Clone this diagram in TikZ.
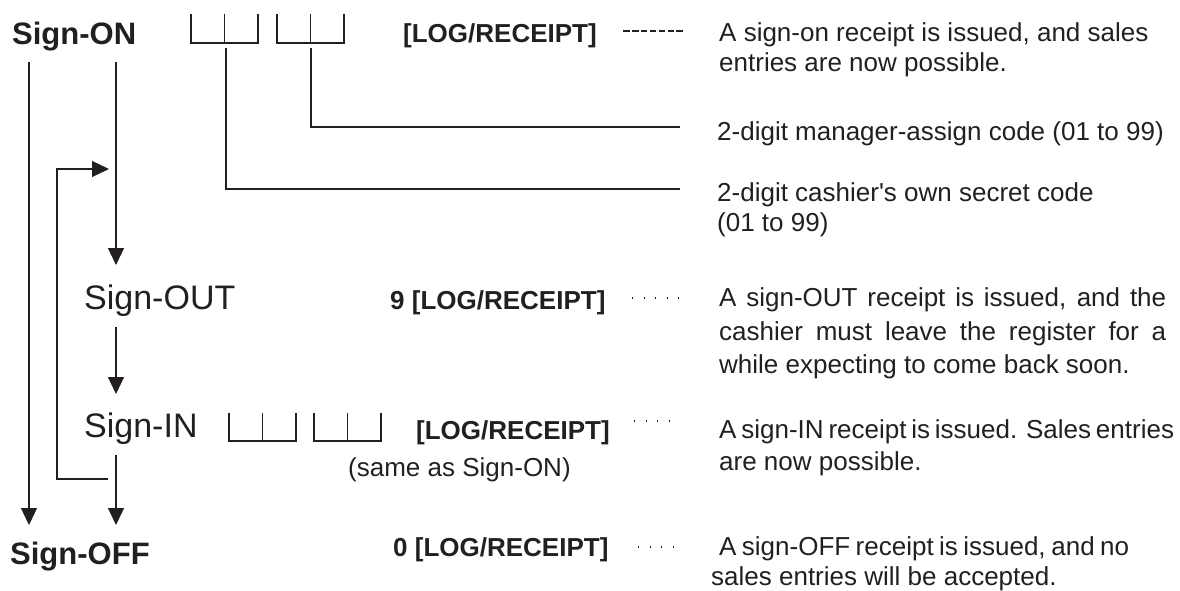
\documentclass[tikz,border=0pt]{standalone}
\usepackage{fontspec}
\setmainfont{Liberation Sans}[Ligatures=TeXOff]
\usetikzlibrary{arrows.meta}
\definecolor{ink}{HTML}{231F20}
\begin{document}
\begin{tikzpicture}[x=1pt,y=-1pt,
  ln/.style={draw=ink,line width=1.2pt},
  arr/.style={ln,-{Triangle[width=16pt,length=17pt]}},
  lbl/.style={anchor=base west,inner sep=0pt,text=ink},
  bigb/.style={lbl,font=\fontsize{31}{36}\selectfont\bfseries},
  bigr/.style={lbl,font=\fontsize{34}{40}\selectfont},
  keyb/.style={lbl,font=\fontsize{26}{31}\selectfont\bfseries},
  desc/.style={lbl,font=\fontsize{26}{30}\selectfont},
  dotlead/.style={draw=ink,line width=1.3pt,dash pattern=on 1.3pt off 10.2pt},
  dashlead/.style={draw=ink,line width=2pt,dash pattern=on 6.6pt off 2.3pt},
  twodigit/.pic={\draw[ln] (0,0) -- (0,#1) -- (67,#1) -- (67,0);
                 \draw[ln] (33.5,#1) -- (33.5,0);}
]
\useasboundingbox (0,0) rectangle (1180,590);

% left labels
\node[bigb] (on)  at (12,44)  {Sign-ON};
\node[bigr] (out) at (84,309) {Sign-OUT};
\node[bigr] (in)  at (84,437) {Sign-IN};
\node[bigb] (off) at (10,564) {Sign-OFF};

% digit boxes
\pic at (191,14) {twodigit=29};
\pic at (277,14) {twodigit=29};
\pic at (229,413) {twodigit=28};
\pic at (314,413) {twodigit=28};

% key labels
\node[keyb] (k1) at (403,42)  {[LOG/RECEIPT]};
\node[keyb] (k2) at (390,309) {9 [LOG/RECEIPT]};
\node[keyb] (k3) at (416,439) {[LOG/RECEIPT]};
\node[lbl,font=\fontsize{26}{31}\selectfont] (same) at (348,476) {(same as Sign-ON)};
\node[keyb] (k4) at (393,556) {0 [LOG/RECEIPT]};

% leaders
\coordinate (l1a) at (623,31);  \coordinate (l1b) at (685,31);
\coordinate (l2a) at (632,298); \coordinate (l2b) at (679.3,298);
\coordinate (l3a) at (634,421); \coordinate (l3b) at (679.3,421);
\coordinate (l4a) at (638,547); \coordinate (l4b) at (673.3,547);
\draw[dashlead] (l1a) -- (l1b);
\draw[dotlead] (l2a) -- (l2b);
\draw[dotlead] (l3a) -- (l3b);
\draw[dotlead] (l4a) -- (l4b);

% code leaders
\coordinate (c1) at (226,48); \coordinate (c1e) at (680,189);
\coordinate (c2) at (311,48); \coordinate (c2e) at (680,127);
\draw[ln] (c1) |- (c1e);
\draw[ln] (c2) |- (c2e);

% descriptions
\node[desc] (d1a) at (719,41) {A sign-on receipt is issued, and sales};
\node[desc] (d1b) at (719,71) {entries are now possible.};
\node[desc] (d2)  at (717,140) {2-digit manager-assign code (01 to 99)};
\node[desc] (d3a) at (717,201) {2-digit cashier's own secret code};
\node[desc] (d3b) at (717,231) {(01 to 99)};
\node[desc] (d4a) at (719,306) {\makebox[447pt][s]{A sign-OUT receipt is issued, and the}};
\node[desc] (d4b) at (719,340) {\makebox[447pt][s]{cashier must leave the register for a}};
\node[desc] (d4c) at (719,373) {while expecting to come back soon.};
\node[desc] (d5a) at (719,438) {\makebox[453pt][s]{A sign-IN receipt is issued. Sales entries}};
\node[desc] (d5b) at (719,470) {are now possible.};
\node[desc] (d6a) at (719,555) {\makebox[410pt][s]{A sign-OFF receipt is issued, and no}};
\node[desc] (d6b) at (711,585) {sales entries will be accepted.};

% flow arrows
\coordinate (a1s) at (29,62);   \coordinate (a1e) at (29,525);
\coordinate (a2s) at (116,62);  \coordinate (a2e) at (116,265);
\coordinate (a3s) at (116,327); \coordinate (a3e) at (116,394);
\coordinate (a4s) at (116,455); \coordinate (a4e) at (116,525);
\draw[arr] (a1s) -- (a1e);
\draw[arr] (a2s) -- (a2e);
\draw[arr] (a3s) -- (a3e);
\draw[arr] (a4s) -- (a4e);

% return loop
\coordinate (r1) at (108,479); \coordinate (r2) at (57,479);
\coordinate (r3) at (57,169);  \coordinate (r4) at (109,169);
\draw[arr] (r1) -- (r2) -- (r3) -- (r4);
\end{tikzpicture}
\end{document}
